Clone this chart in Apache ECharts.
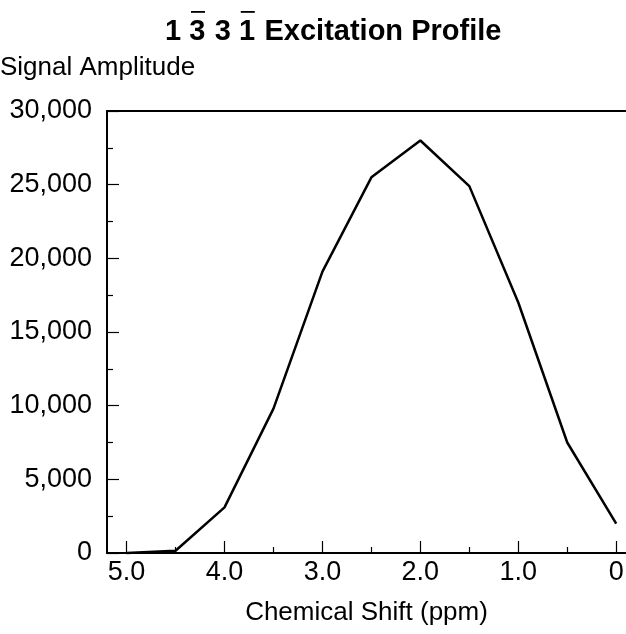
<!DOCTYPE html>
<html>
<head>
<meta charset="utf-8">
<script src="https://cdn.jsdelivr.net/npm/echarts@6/dist/echarts.min.js"></script>
<style>
html,body{margin:0;padding:0;background:#fff;}
#chart{width:626px;height:634px;}
</style>
</head>
<body>
<div id="chart"></div>
<script>
const chemicalShift = [5.0, 4.5, 4.0, 3.5, 3.0, 2.5, 2.0, 1.5, 1.0, 0.5, 0.0];
const signalAmplitude = [0, 150, 3100, 9800, 19100, 25500, 28000, 24900, 17000, 7500, 2000];
const xMajorTicks = [0, 1, 2, 3, 4, 5];
const xMinorTicks = [0.5, 1.5, 2.5, 3.5, 4.5];

const FONT = '"Liberation Sans", Arial, Helvetica, sans-serif';

// small image used as an overline background for the barred digits
const barImg = document.createElement('canvas');
barImg.width = 20; barImg.height = 40;
(function () {
  const c = barImg.getContext('2d');
  c.fillStyle = '#000';
  c.fillRect(2, 0, 16, 2);
})();

const chart = echarts.init(document.getElementById('chart'), null, {renderer: 'canvas'});

const xCommon = {
  type: 'value', inverse: true, min: -0.1, max: 5.2,
  splitLine: {show: false}
};

const titleTok = {fontFamily: FONT, fontWeight: 'bold', fontSize: 29, color: '#000', lineHeight: 29, padding: [6, 0, 0, 0]};

chart.setOption({
  animation: false,
  backgroundColor: '#fff',
  title: [{
    text: '{n|1 }{o|3}{n| 3 }{o|1}{n| Excitation Profile}',
    left: 165, top: 14, padding: 0,
    textStyle: {
      rich: {
        n: Object.assign({}, titleTok),
        o: Object.assign({}, titleTok, {backgroundColor: {image: barImg}})
      }
    }
  }, {
    text: 'Signal Amplitude',
    left: 0, top: 55, padding: 0,
    textStyle: {fontFamily: FONT, fontWeight: 'normal', fontSize: 26, color: '#000'}
  }],
  grid: {left: 107, right: 0, top: 111, bottom: 81, containLabel: false, outerBoundsMode: 'none'},
  xAxis: [
    Object.assign({}, xCommon, {
      position: 'bottom',
      name: 'Chemical Shift (ppm)',
      nameLocation: 'middle', nameGap: 47,
      nameTextStyle: {fontFamily: FONT, fontSize: 26, color: '#000'},
      axisLine: {show: true, onZero: false, lineStyle: {color: '#000', width: 2}},
      axisTick: {show: true, inside: true, length: 12, customValues: xMajorTicks, lineStyle: {color: '#000', width: 1.2}},
      axisLabel: {customValues: xMajorTicks, margin: 6, fontFamily: FONT, fontSize: 27, color: '#000',
        formatter: v => v === 0 ? '0' : v.toFixed(1)}
    }),
    Object.assign({}, xCommon, {
      position: 'bottom',
      axisLine: {show: false, onZero: false},
      axisTick: {show: true, inside: true, length: 6, customValues: xMinorTicks, lineStyle: {color: '#000', width: 1.2}},
      axisLabel: {show: false}
    }),
    Object.assign({}, xCommon, {
      position: 'top',
      axisLine: {show: true, onZero: false, lineStyle: {color: '#000', width: 2}},
      axisTick: {show: false},
      axisLabel: {show: false}
    })
  ],
  yAxis: {
    type: 'value', min: 0, max: 30000, interval: 5000,
    position: 'left',
    axisLine: {show: true, onZero: false, lineStyle: {color: '#000', width: 2}},
    axisTick: {show: true, inside: true, length: 12, lineStyle: {color: '#000', width: 1.2}},
    minorTick: {show: true, splitNumber: 2, length: 6, lineStyle: {color: '#000', width: 1.2}},
    splitLine: {show: false},
    axisLabel: {margin: 15, fontFamily: FONT, fontSize: 27, color: '#000',
      formatter: v => v.toLocaleString('en-US')}
  },
  series: [{
    type: 'line',
    xAxisIndex: 0,
    data: chemicalShift.map((x, i) => [x, signalAmplitude[i]]),
    showSymbol: false,
    symbol: 'none',
    lineStyle: {color: '#000', width: 2.5},
    clip: false
  }]
});
</script>
</body>
</html>
